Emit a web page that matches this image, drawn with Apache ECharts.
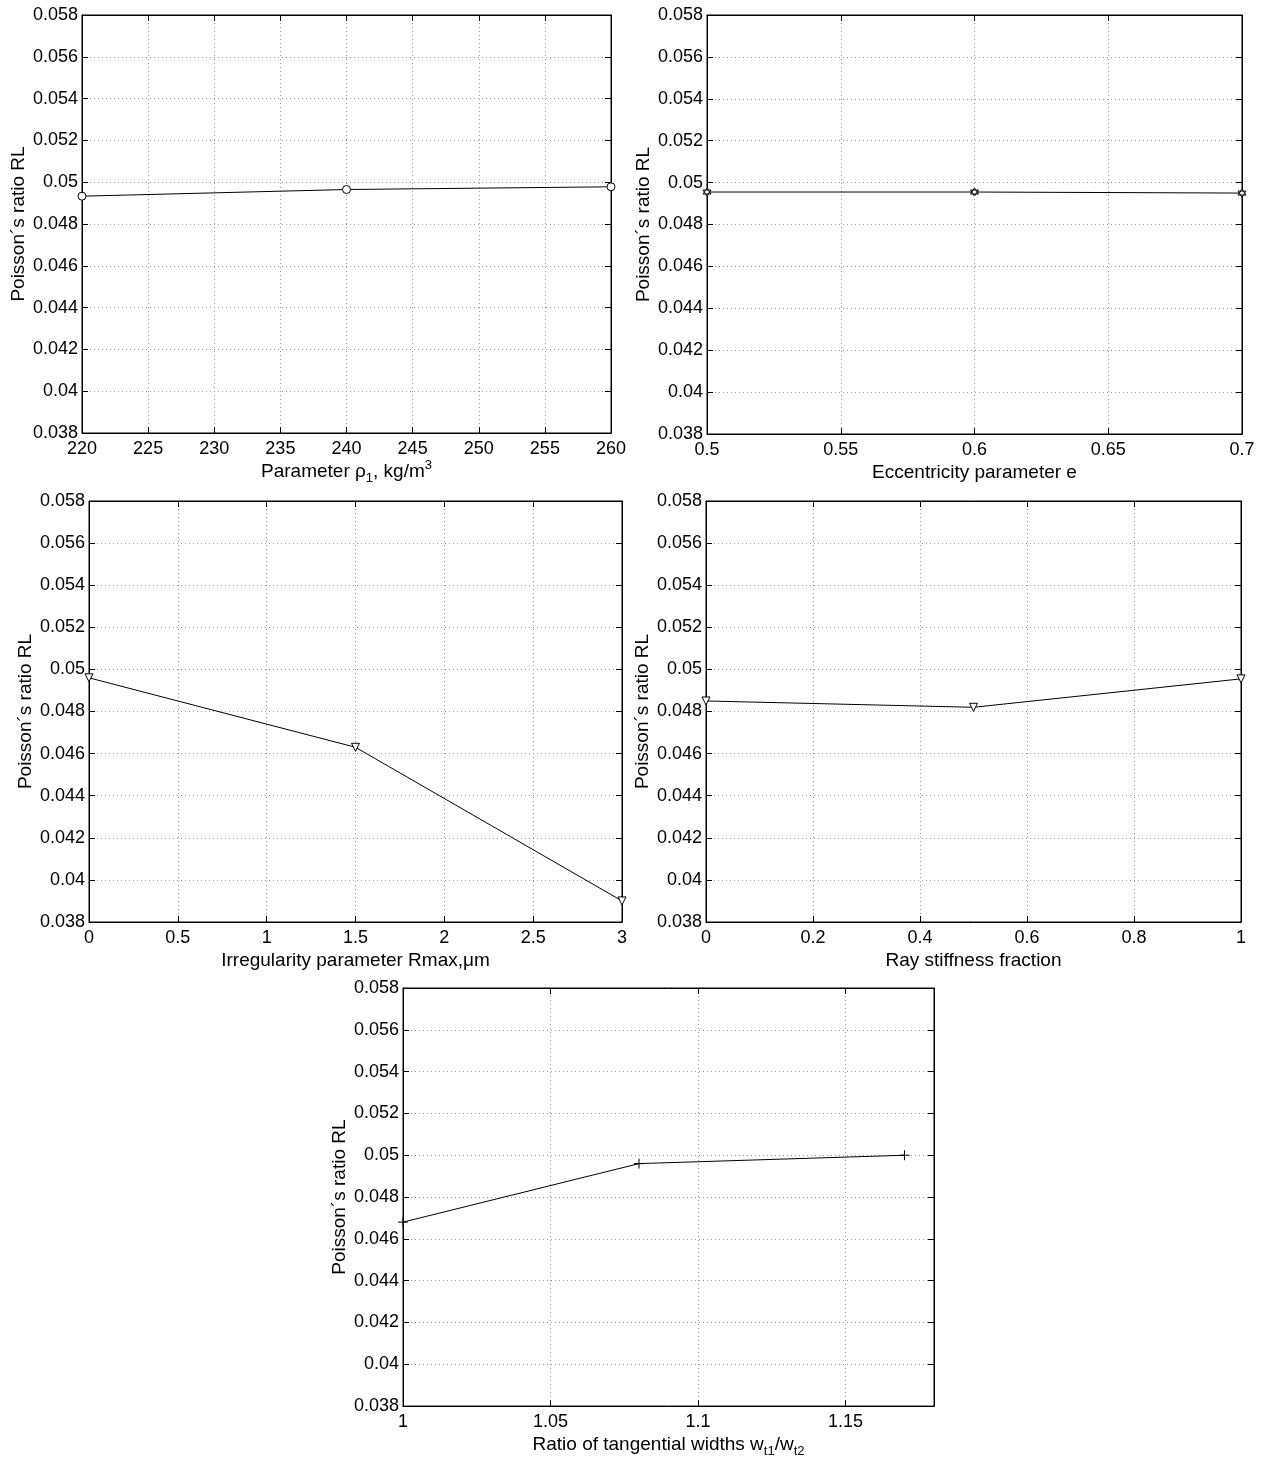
<!DOCTYPE html>
<html>
<head>
<meta charset="utf-8">
<script src="https://cdn.jsdelivr.net/npm/echarts@6/dist/echarts.min.js"></script>
<style>
html,body{margin:0;padding:0;background:#fff;}
#c{width:1267px;height:1459px;}
</style>
</head>
<body>
<div id="c"></div>
<script>
// ---- data ----
const yTicksMin = 0.038, yTicksMax = 0.058, yTickStep = 0.002;

const rhoX = [220, 240, 260];
const rhoY = [0.04933, 0.04965, 0.04978];

const eccX = [0.5, 0.6, 0.7];
const eccY = [0.04955, 0.04955, 0.0495];

const rmaxX = [0, 1.5, 3];
const rmaxY = [0.0496, 0.0463, 0.0390];

const rayX = [0, 0.5, 1];
const rayY = [0.0485, 0.0482, 0.04955];

const wX = [1, 1.08, 1.17];
const wY = [0.0468, 0.0496, 0.0500];

const yName = 'Poisson\u00b4s ratio RL';

// ---- layout / style ----
const FONT = 'Liberation Sans, Arial, Helvetica, sans-serif';
const FS = 18;
const NFS = 19;
const panels = [
  {grid:{left:82, top:15, width:529, height:418}, x:rhoX, y:rhoY, xmin:220, xmax:260, xstep:5,
   name:'Parameter \u03c1{sub|1}, kg/m{sup|3}', nameGap:16, sym:'circle', rot:0},
  {grid:{left:707, top:15, width:535, height:419}, x:eccX, y:eccY, xmin:0.5, xmax:0.7, xstep:0.05,
   name:'Eccentricity parameter e', nameGap:26, sym:'path://M5,0 L9.33,7.5 L0.67,7.5 Z M5,10 L0.67,2.5 L9.33,2.5 Z', rot:0},
  {grid:{left:89, top:501, width:533, height:421}, x:rmaxX, y:rmaxY, xmin:0, xmax:3, xstep:0.5,
   name:'Irregularity parameter Rmax,\u03bcm', nameGap:23, sym:'triangle', rot:180},
  {grid:{left:706, top:501, width:535, height:421}, x:rayX, y:rayY, xmin:0, xmax:1, xstep:0.2,
   name:'Ray stiffness fraction', nameGap:23, sym:'triangle', rot:180},
  {grid:{left:403, top:988, width:531, height:420}, x:wX, y:wY, xmin:1, xmax:1.18, xstep:0.05,
   name:'Ratio of tangential widths w{sub|t1}/w{sub|t2}', nameGap:16, sym:'path://M0,5 L10,5 M5,0 L5,10', rot:0, plus:true}
];

const rich = {
  sub:{fontSize:13, fontFamily:FONT, color:'#000', verticalAlign:'bottom', lineHeight:13},
  sup:{fontSize:13, fontFamily:FONT, color:'#000', verticalAlign:'top', lineHeight:13}
};

const grids = [], xAxes = [], yAxes = [], series = [];
panels.forEach((p, i) => {
  grids.push(Object.assign({show:true, borderColor:'#000', borderWidth:1, backgroundColor:'#fff'}, p.grid));
  const tick = {show:true, inside:true, length:6, lineStyle:{color:'#000', width:1}};
  const split = {show:true, lineStyle:{color:'#9a9a9a', width:1, type:[1,3]}};
  xAxes.push({
    type:'value', gridIndex:i, min:p.xmin, max:p.xmax, interval:p.xstep, position:'bottom',
    axisLine:{show:true, onZero:false, lineStyle:{color:'#000', width:1}},
    axisTick:tick, splitLine:split,
    axisLabel:{color:'#000', fontSize:FS, fontFamily:FONT, margin:7, showMaxLabel: i===4 ? false : true},
    name:p.name, nameLocation:'middle', nameGap:p.nameGap,
    nameTextStyle:{color:'#000', fontSize:NFS, fontFamily:FONT, lineHeight:26, rich:rich}
  });
  xAxes.push({
    type:'value', gridIndex:i, min:p.xmin, max:p.xmax, interval:p.xstep, position:'top',
    axisLine:{show:true, onZero:false, lineStyle:{color:'#000', width:1}},
    axisTick:tick, splitLine:{show:false}, axisLabel:{show:false}
  });
  yAxes.push({
    type:'value', gridIndex:i, min:yTicksMin, max:yTicksMax, interval:yTickStep, position:'left',
    axisLine:{show:true, onZero:false, lineStyle:{color:'#000', width:1}},
    axisTick:tick, splitLine:split,
    axisLabel:{color:'#000', fontSize:FS, fontFamily:FONT, margin:4,
      formatter: v => String(parseFloat(v.toFixed(4)))},
    name:yName, nameLocation:'middle', nameGap:54,
    nameTextStyle:{color:'#000', fontSize:NFS, fontFamily:FONT}
  });
  yAxes.push({
    type:'value', gridIndex:i, min:yTicksMin, max:yTicksMax, interval:yTickStep, position:'right',
    axisLine:{show:true, onZero:false, lineStyle:{color:'#000', width:1}},
    axisTick:tick, splitLine:{show:false}, axisLabel:{show:false}
  });
  series.push({
    type:'line', xAxisIndex:2*i, yAxisIndex:2*i,
    data:p.x.map((xv, k) => [xv, p.y[k]]),
    symbol:p.sym, symbolSize: p.plus ? 10 : 8, symbolRotate:p.rot, showSymbol:true,
    lineStyle:{color:'#000', width:1},
    itemStyle:{color: p.plus ? 'none' : '#fff', borderColor:'#000', borderWidth:1},
    animation:false, clip:false
  });
});

const chart = echarts.init(document.getElementById('c'), null, {renderer:'canvas'});
chart.setOption({
  backgroundColor:'#fff',
  animation:false,
  grid:grids, xAxis:xAxes, yAxis:yAxes, series:series
});
</script>
</body>
</html>
